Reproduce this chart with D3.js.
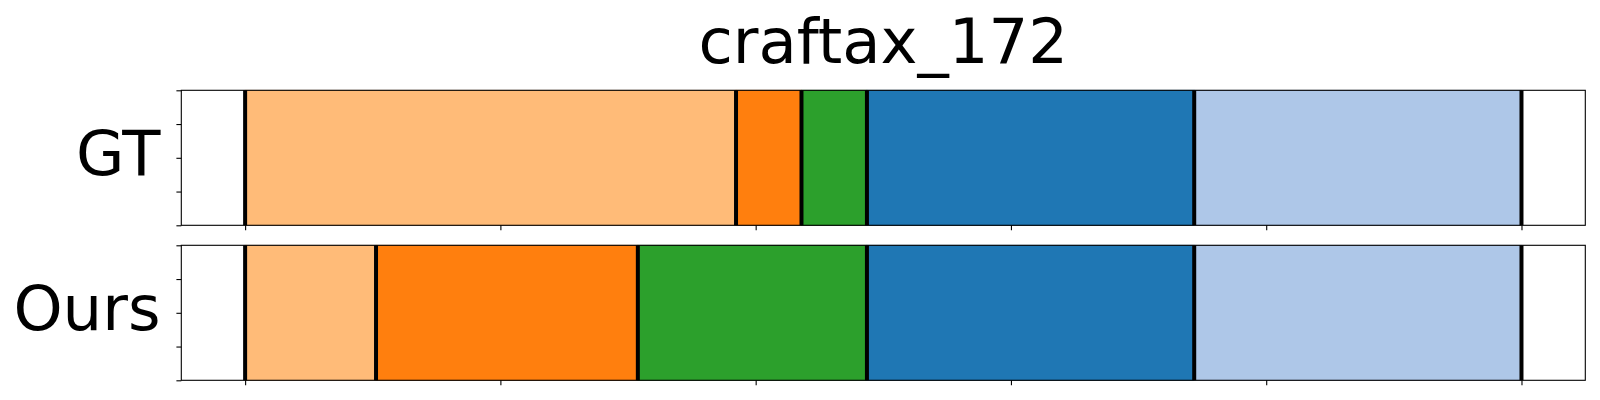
<!DOCTYPE html>
<html>
<head>
<meta charset="utf-8">
<script src="https://cdn.jsdelivr.net/npm/d3@7"></script>
<style>
  html, body { margin: 0; padding: 0; background: #fff; }
  svg { display: block; }
</style>
</head>
<body>
<svg id="chart" width="1600" height="400"></svg>
<script>
// ---- data ----
const title = "craftax_172";
const rowLabels = ["GT", "Ours"];
const totalFrames = 39;
// segment classes (colour index) and segment lengths in frames
const gtClasses = [0, 1, 2, 3, 4];
const gtLengths = [15, 2, 2, 10, 10];
const oursClasses = [0, 1, 2, 3, 4];
const oursLengths = [4, 8, 7, 10, 10];
const classColors = ["#ffbb78", "#ff7f0e", "#2ca02c", "#1f77b4", "#aec7e8"];
const xTickValues = [0, 0.2, 0.4, 0.6, 0.8, 1.0];
const yTickValues = [0, 0.25, 0.5, 0.75, 1.0];

// ---- layout ----
const svg = d3.select("#chart");
const left = 181.3, right = 1585.3;
const panels = [
  { label: rowLabels[0], classes: gtClasses, lengths: gtLengths, top: 90.3, bottom: 225.3 },
  { label: rowLabels[1], classes: oursClasses, lengths: oursLengths, top: 245.3, bottom: 380.3 }
];

const x = d3.scaleLinear().domain([-0.05, 1.05]).range([left, right]);
const font = "'DejaVu Sans', sans-serif";

panels.forEach(p => {
  const y = d3.scaleLinear().domain([0, 1]).range([p.bottom, p.top]);
  const g = svg.append("g");

  // build segments from lengths
  let acc = 0;
  const segs = p.lengths.map((len, i) => {
    const s = { start: acc / totalFrames, end: (acc + len) / totalFrames, cls: p.classes[i] };
    acc += len;
    return s;
  });

  g.selectAll("rect.seg").data(segs).enter().append("rect")
    .attr("class", "seg")
    .attr("x", d => x(d.start))
    .attr("width", d => x(d.end) - x(d.start))
    .attr("y", y(1))
    .attr("height", y(0) - y(1))
    .attr("fill", d => classColors[d.cls])
    .attr("stroke", d => d3.color(classColors[d.cls]).darker(0.3))
    .attr("stroke-width", 0.8);

  // boundary lines
  const bounds = [0].concat(segs.map(s => s.end));
  g.selectAll("line.bound").data(bounds).enter().append("line")
    .attr("class", "bound")
    .attr("x1", d => x(d)).attr("x2", d => x(d))
    .attr("y1", y(1)).attr("y2", y(0))
    .attr("stroke", "#000")
    .attr("stroke-width", 4);

  // axes (ticks without labels)
  const xAxis = d3.axisBottom(x).tickValues(xTickValues).tickSize(4.9).tickFormat("");
  const yAxis = d3.axisLeft(y).tickValues(yTickValues).tickSize(4.9).tickFormat("");
  const gx = g.append("g").attr("transform", `translate(0,${p.bottom})`).call(xAxis);
  const gy = g.append("g").attr("transform", `translate(${left},0)`).call(yAxis);
  [gx, gy].forEach(a => {
    a.select(".domain").remove();
    a.selectAll(".tick line").attr("stroke", "#000").attr("stroke-width", 1.1);
  });

  // spines
  g.append("rect")
    .attr("x", left).attr("y", p.top)
    .attr("width", right - left).attr("height", p.bottom - p.top)
    .attr("fill", "none").attr("stroke", "#000").attr("stroke-width", 1.1);

  // row label
  g.append("text")
    .attr("x", 160.5)
    .attr("y", (p.top + p.bottom) / 2 + 17.2)
    .attr("text-anchor", "end")
    .attr("font-family", font)
    .attr("font-size", 62.5)
    .attr("fill", "#000")
    .text(p.label);
});

svg.append("text")
  .attr("x", (left + right) / 2)
  .attr("y", 63.3)
  .attr("text-anchor", "middle")
  .attr("font-family", font)
  .attr("font-size", 62.5)
  .attr("fill", "#000")
  .text(title);
</script>
</body>
</html>
